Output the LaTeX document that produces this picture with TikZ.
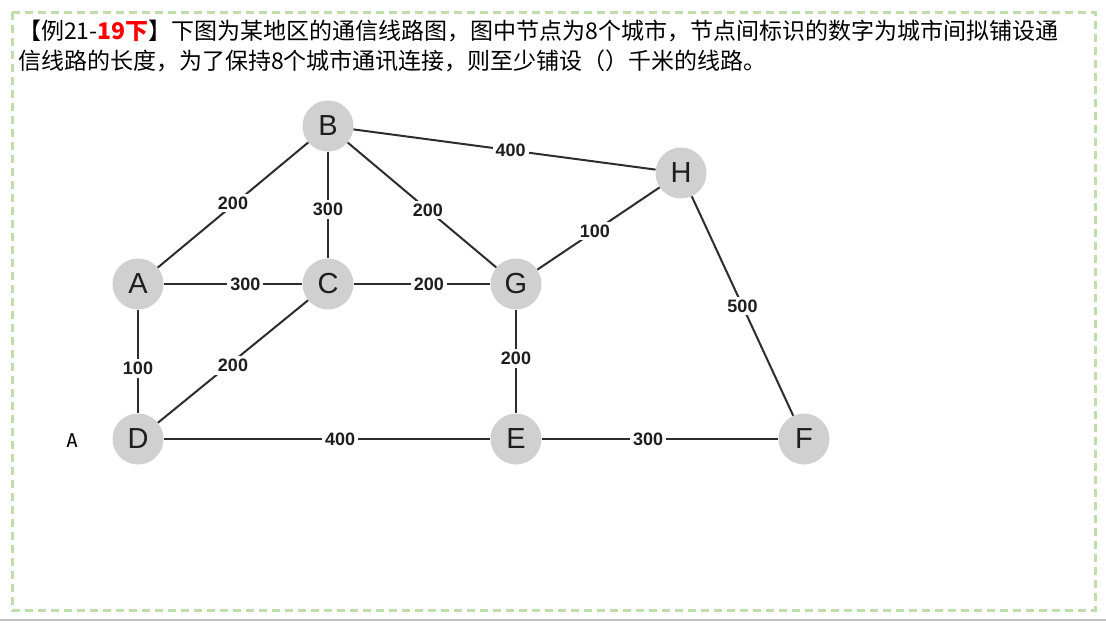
\documentclass[tikz,border=0pt]{standalone}
\usepackage{fontspec}
\setmainfont{Liberation Sans}
\newfontfamily\cjk{Noto Sans CJK SC}
\newfontfamily\monof{DejaVu Sans Mono}
\definecolor{bordergreen}{RGB}{192,222,172}
\definecolor{nodegray}{RGB}{208,208,208}
\definecolor{edgegray}{RGB}{45,45,45}
\definecolor{txtgray}{RGB}{30,30,30}
\begin{document}
\begin{tikzpicture}[x=1pt,y=-1pt,
  city/.style={circle,fill=nodegray,minimum size=51pt,inner sep=0pt,text=txtgray,font=\fontsize{29}{29}\selectfont},
  edge/.style={draw=edgegray,line width=2pt},
  lbl/.style={fill=white,inner sep=3pt,text=txtgray,font=\bfseries\fontsize{18}{18}\selectfont}]
\useasboundingbox (0,0) rectangle (1106,624);
\fill[white] (0,0) rectangle (1106,624);
% border
\draw[bordergreen,line width=3pt,dash pattern=on 8pt off 5pt] (12,12) rectangle (1095,610);
\draw[black!25,line width=1.5pt] (0,620) -- (1106,620);
% question text
\node[anchor=west,inner sep=0pt,font=\cjk\fontsize{23}{23}\selectfont] (q1) at (18,31)
  {【例21-{\color{red}\bfseries 19下}】下图为某地区的通信线路图，图中节点为8个城市，节点间标识的数字为城市间拟铺设通};
\node[anchor=west,inner sep=0pt,font=\cjk\fontsize{23}{23}\selectfont] (q2) at (18,61)
  {信线路的长度，为了保持8个城市通讯连接，则至少铺设（）千米的线路。};
\node[font=\monof\fontsize{19}{19}\selectfont] (lettera) at (72,441) {A};
% nodes
\node[city] (B) at (328,126) {B};
\node[city] (H) at (681,173) {H};
\node[city] (A) at (138,284) {A};
\node[city] (C) at (328,284) {C};
\node[city] (G) at (516,284) {G};
\node[city] (D) at (138,439) {D};
\node[city] (E) at (516,439) {E};
\node[city] (F) at (804,439) {F};
% edges
\path[edge] (B) -- node[lbl,pos=0.5,yshift=2pt] {200} (A);
\path[edge] (B) -- node[lbl,pos=0.54] {300} (C);
\path[edge] (B) -- node[lbl,pos=0.54] {200} (G);
\path[edge] (B) -- node[lbl,pos=0.52] {400} (H);
\path[edge] (G) -- node[lbl,pos=0.47] {100} (H);
\path[edge] (A) -- node[lbl,pos=0.59] {300} (C);
\path[edge] (C) -- node[lbl,pos=0.55] {200} (G);
\path[edge] (A) -- node[lbl,pos=0.57] {100} (D);
\path[edge] (C) -- node[lbl,pos=0.5,yshift=-4pt] {200} (D);
\path[edge] (G) -- node[lbl,pos=0.47] {200} (E);
\path[edge] (H) -- node[lbl,pos=0.5] {500} (F);
\path[edge] (D) -- node[lbl,pos=0.54] {400} (E);
\path[edge] (E) -- node[lbl,pos=0.45] {300} (F);
\end{tikzpicture}
\end{document}
